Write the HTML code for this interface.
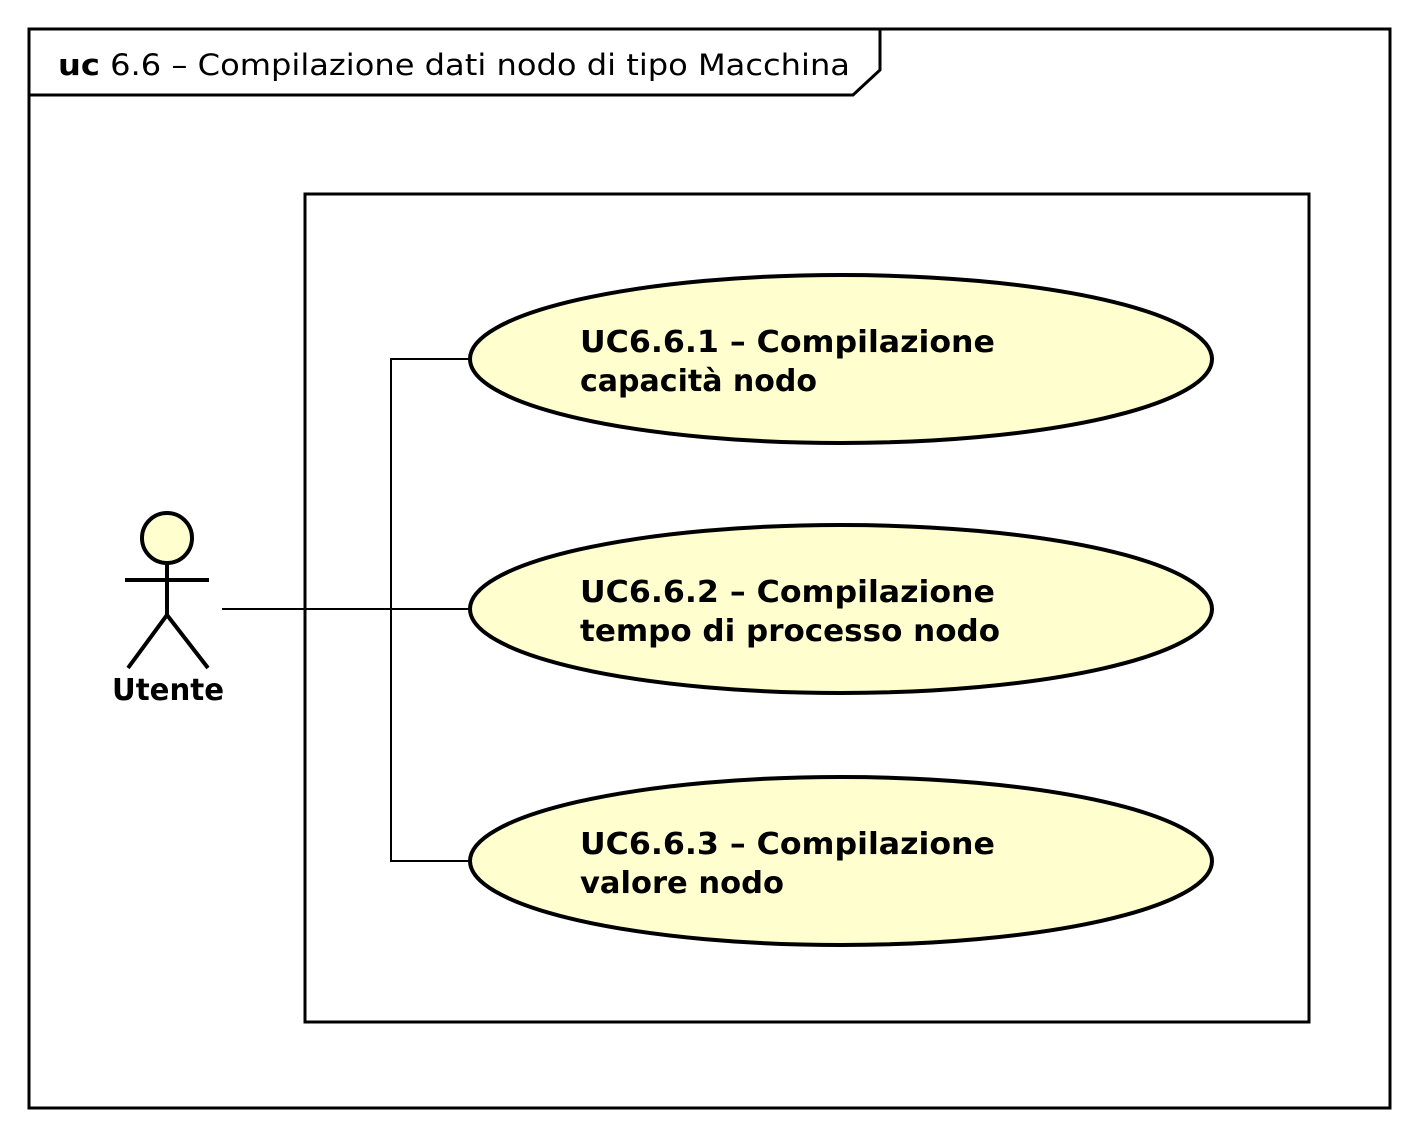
<!DOCTYPE html>
<html><head><meta charset="utf-8"><style>html,body{margin:0;padding:0;background:#fff}</style></head>
<body>
<svg width="1416" height="1136" xmlns="http://www.w3.org/2000/svg" font-family="'DejaVu Sans','Liberation Sans',sans-serif">
<rect x="0" y="0" width="1416" height="1136" fill="#fff"/>
<rect x="29" y="29" width="1361" height="1079" fill="none" stroke="#000" stroke-width="3"/>
<path d="M29 29 L880 29 L880 70 L853 95 L29 95" fill="none" stroke="#000" stroke-width="3"/>
<text x="58" y="75" font-size="29" textLength="792" lengthAdjust="spacingAndGlyphs"><tspan font-weight="bold">uc</tspan> 6.6 – Compilazione dati nodo di tipo Macchina</text>
<rect x="305" y="194" width="1004" height="828" fill="none" stroke="#000" stroke-width="3"/>
<g fill="#fefece" stroke="#000" stroke-width="4">
<ellipse cx="841" cy="359" rx="371" ry="84"/>
<ellipse cx="841" cy="609" rx="371" ry="84"/>
<ellipse cx="841" cy="861" rx="371" ry="84"/>
</g>
<g fill="none" stroke="#000" stroke-width="2">
<line x1="222" y1="609" x2="470" y2="609"/>
<polyline points="470,359 391,359 391,861 470,861"/>
</g>
<g font-size="30" font-weight="bold" lengthAdjust="spacingAndGlyphs">
<text x="580" y="352" textLength="415" lengthAdjust="spacingAndGlyphs">UC6.6.1 – Compilazione</text>
<text x="580" y="391" textLength="237" lengthAdjust="spacingAndGlyphs">capacità nodo</text>
<text x="580" y="602" textLength="415" lengthAdjust="spacingAndGlyphs">UC6.6.2 – Compilazione</text>
<text x="580" y="641" textLength="420" lengthAdjust="spacingAndGlyphs">tempo di processo nodo</text>
<text x="580" y="854" textLength="415" lengthAdjust="spacingAndGlyphs">UC6.6.3 – Compilazione</text>
<text x="580" y="893" textLength="204" lengthAdjust="spacingAndGlyphs">valore nodo</text>
</g>
<g stroke="#000" stroke-width="4" fill="none">
<circle cx="167" cy="538" r="25" fill="#fefece"/>
<line x1="167" y1="563" x2="167" y2="615"/>
<line x1="125" y1="580" x2="209" y2="580"/>
<polyline points="128,668 167,615 208,668"/>
</g>
<text x="168" y="700" font-size="30" font-weight="bold" text-anchor="middle" textLength="112" lengthAdjust="spacingAndGlyphs">Utente</text>
</svg>
</body></html>
